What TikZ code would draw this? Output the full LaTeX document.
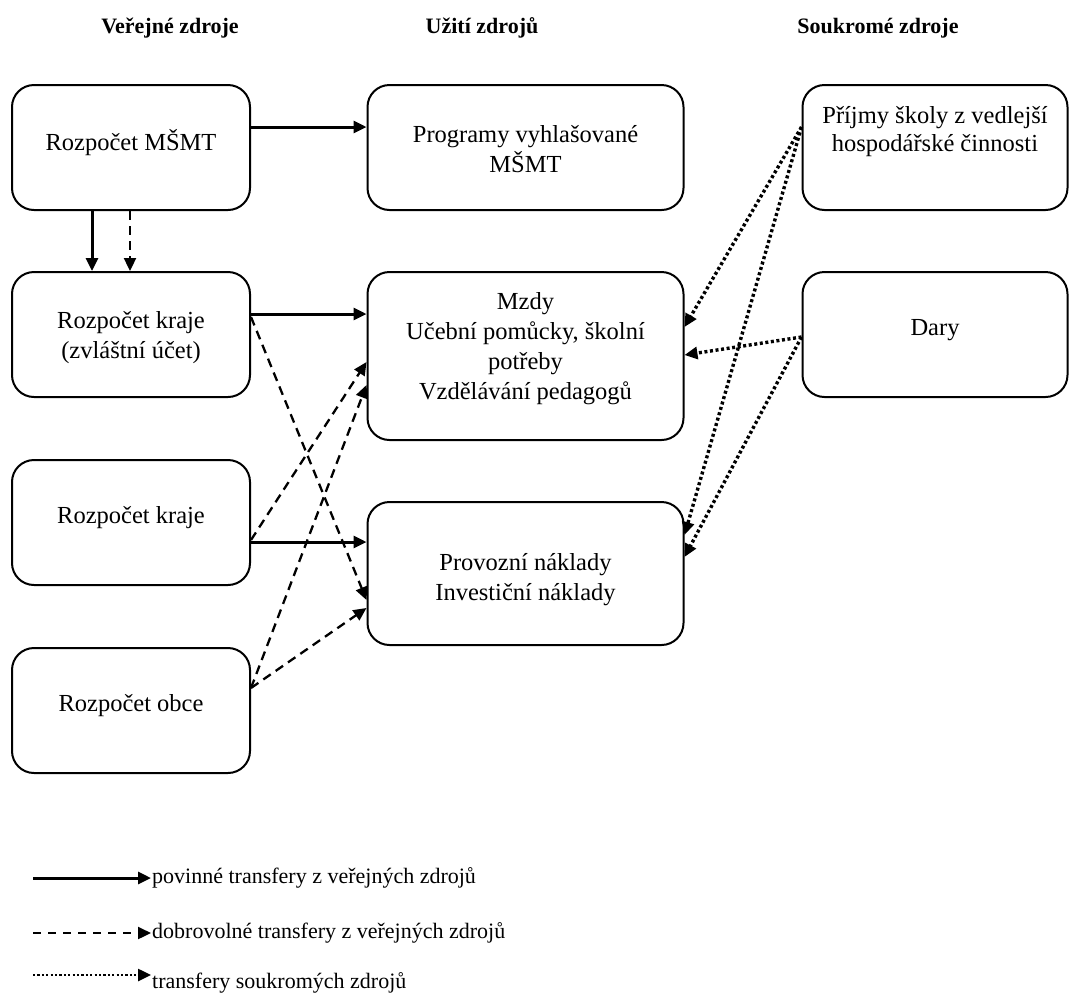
\documentclass[tikz,border=0pt]{standalone}
\usepackage{fontspec}
\setmainfont{Liberation Serif}
\usetikzlibrary{arrows.meta}
\begin{document}
\begin{tikzpicture}[x=1pt,y=-1pt,
  box/.style={draw, line width=2pt, rounded corners=22pt, inner sep=0pt},
  txt/.style={font=\fontsize{24.5}{30}\selectfont, align=center, inner sep=0pt},
  head/.style={font=\fontsize{22}{25}\selectfont\bfseries, inner sep=0pt},
  legtxt/.style={font=\fontsize{22}{26}\selectfont, inner sep=0pt, anchor=west},
  tip/.style={-{Triangle[length=13pt,width=12pt]}},
  solidarrow/.style={tip, line width=3pt},
  dasharrow/.style={tip, line width=2.3pt, dash pattern=on 9pt off 6pt},
  dotarrow/.style={tip, line width=3.4pt, dash pattern=on 3pt off 2.6pt}
]
\useasboundingbox (0,0) rectangle (1070,994);

% headers
\node[head] (h1) at (170,28) {Veřejné zdroje};
\node[head] (h2) at (482,28) {Užití zdrojů};
\node[head] (h3) at (878,28) {Soukromé zdroje};

% left boxes
\node[box, minimum width=238pt, minimum height=125pt] (msmt) at (131,147.5) {};
\node[box, minimum width=238pt, minimum height=125pt] (kz) at (131,334.5) {};
\node[box, minimum width=238pt, minimum height=125pt] (kr) at (131,522.5) {};
\node[box, minimum width=238pt, minimum height=125pt] (ob) at (131,710.5) {};
\node[txt] (tmsmt) at (131,143) {Rozpočet MŠMT};
\node[txt] (tkz) at (131,338) {Rozpočet kraje\\(zvláštní účet)};
\node[txt] (tkr) at (131,518) {Rozpočet kraje};
\node[txt] (tob) at (131,706) {Rozpočet obce};

% middle boxes
\node[box, minimum width=316pt, minimum height=125pt] (prog) at (525.5,147.5) {};
\node[box, minimum width=316pt, minimum height=168pt] (mzdy) at (525.5,356) {};
\node[box, minimum width=316pt, minimum height=143pt] (prov) at (525.5,573.5) {};
\node[txt] (tprog) at (525.5,149) {Programy vyhlašované\\MŠMT};
\node[txt] (tmzdy) at (525.5,349) {Mzdy\\Učební pomůcky, školní\\potřeby\\Vzdělávání pedagogů};
\node[txt] (tprov) at (525.5,580) {Provozní náklady\\Investiční náklady};

% right boxes
\node[box, minimum width=265pt, minimum height=125pt] (prij) at (935,147.5) {};
\node[box, minimum width=265pt, minimum height=125pt] (dary) at (935,334.5) {};
\node[txt, font=\fontsize{24.5}{28}\selectfont] (tprij) at (935,132) {Příjmy školy z vedlejší\\hospodářské činnosti};
\node[txt] (tdary) at (935,330) {Dary};

% solid arrows
\draw[solidarrow] ([yshift=20.5pt]msmt.east) -- ([yshift=20.5pt]prog.west);
\draw[solidarrow] ([xshift=-39pt]msmt.south) -- ([xshift=-39pt]kz.north);
\draw[solidarrow] ([yshift=20.5pt]kz.east) -- ([yshift=42pt]mzdy.west);
\draw[solidarrow] ([yshift=-19.5pt]kr.east) -- ([yshift=31.5pt]prov.west);

% dashed arrows
\draw[dasharrow] ([xshift=-1pt]msmt.south) -- ([xshift=-1pt]kz.north);
\draw[dasharrow] ([yshift=17.5pt]kz.east) -- ([yshift=-26.5pt]prov.west);
\draw[dasharrow] ([yshift=-17.5pt]kr.east) -- ([yshift=-6pt]mzdy.west);
\draw[dasharrow] ([yshift=22.5pt]ob.east) -- ([yshift=-29pt]mzdy.west);
\draw[dasharrow] ([yshift=22.5pt]ob.east) -- ([yshift=-34.5pt]prov.west);

% dotted arrows
\draw[dotarrow] ([yshift=20.5pt]prij.west) -- ([yshift=29pt]mzdy.east);
\draw[dotarrow] ([yshift=20.5pt]prij.west) -- ([yshift=38.5pt]prov.east);
\draw[dotarrow] ([yshift=-2.5pt]dary.west) -- ([yshift=1pt]mzdy.east);
\draw[dotarrow] ([yshift=-2.5pt]dary.west) -- ([yshift=16.5pt]prov.east);

% legend
\coordinate (l1a) at (33,878);
\coordinate (l1b) at (151,878);
\coordinate (l2a) at (33,933);
\coordinate (l2b) at (151,933);
\coordinate (l3a) at (33,975);
\coordinate (l3b) at (151,975);
\draw[solidarrow] (l1a) -- (l1b);
\draw[dasharrow, dash pattern=on 8pt off 7pt] (l2a) -- (l2b);
\draw[dotarrow, line width=2.6pt, dash pattern=on 2.2pt off 2.2pt] (l3a) -- (l3b);
\node[legtxt] (t1) at (152,878) {povinné transfery z veřejných zdrojů};
\node[legtxt] (t2) at (152,933) {dobrovolné transfery z veřejných zdrojů};
\node[legtxt] (t3) at (152,983) {transfery soukromých zdrojů};
\end{tikzpicture}
\end{document}
